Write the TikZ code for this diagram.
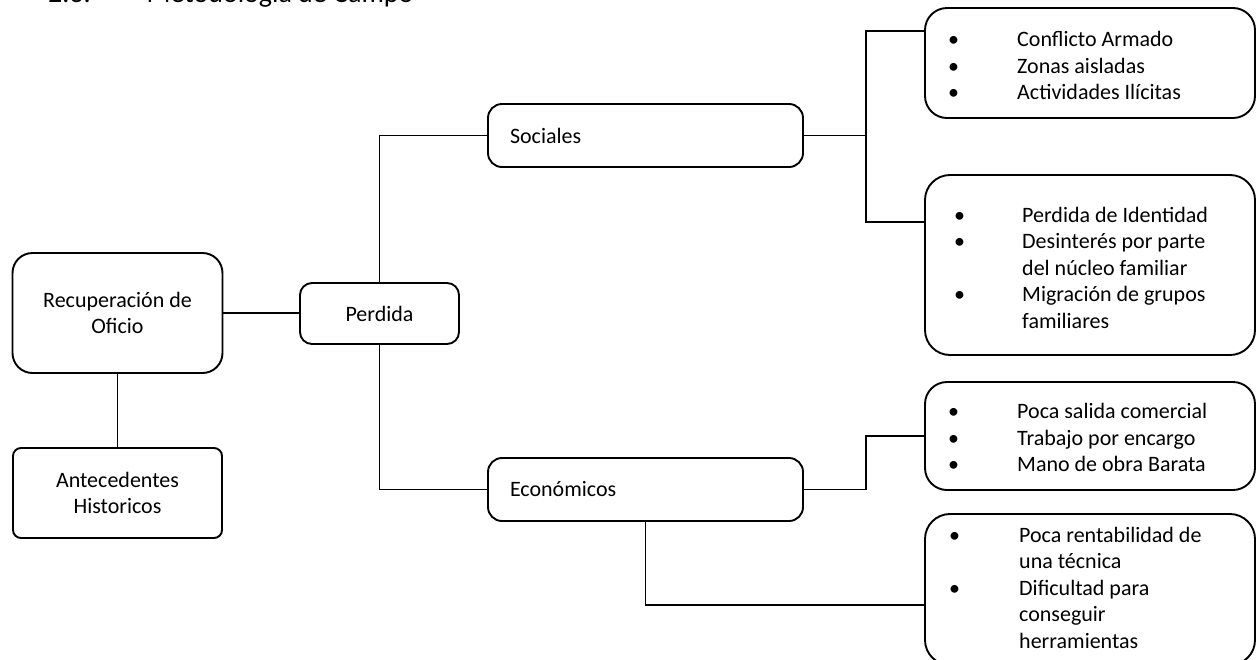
\documentclass[tikz,border=0pt]{standalone}
\usepackage{fontspec}
\setmainfont{Carlito}
\begin{document}
\begin{tikzpicture}[x=1pt,y=-1pt]
\tikzset{
  bx/.style={draw=black, line width=1.9pt, rounded corners=#1, inner sep=0pt, align=center,
             font=\fontsize{22}{26.5}\selectfont},
  bx/.default=15pt,
  lst/.style={anchor=west, inner sep=0pt, font=\fontsize{22}{26.5}\selectfont},
  conn/.style={line width=1.9pt},
  head/.style={anchor=base west, inner sep=0pt, font=\fontsize{28}{34}\selectfont}
}
\useasboundingbox (0,0) rectangle (1257,659);
\clip (0,0) rectangle (1257,659);

% heading (cut off at top, as in the reference)
\node[head] (hd) at (48,2.5) {2.3.\hspace*{56pt}Metodología de Campo};

% main boxes
\node[bx=20pt, minimum width=210pt, minimum height=120pt] (rec) at (117.5,313) {Recuperación de\\Oficio};
\node[bx=8pt, minimum width=209pt, minimum height=90pt] (ant) at (117.5,493) {Antecedentes\\Historicos};
\node[bx=12pt, minimum width=159pt, minimum height=61pt] (per) at (379.5,313.5) {Perdida};
\node[bx=14pt, minimum height=63pt, text width=271pt, inner xsep=22pt, align=left] (soc) at (645.5,135.5) {Sociales};
\node[bx=14pt, minimum height=63pt, text width=271pt, inner xsep=22pt, align=left] (eco) at (645.5,489.5) {Económicos};

% right boxes
\node[bx=22pt, minimum width=330pt, minimum height=110pt] (b1) at (1090,63) {};
\node[bx=25pt, minimum width=330pt, minimum height=180pt] (b2) at (1090,265) {};
\node[bx=22pt, minimum width=330pt, minimum height=108pt] (b3) at (1090,436) {};
\node[bx=25pt, minimum width=330pt, minimum height=151pt] (b4) at (1090,589.5) {};

% lists
\node[lst] (t1) at (948,68) {\begin{tabular}{@{}p{69pt}@{}l@{}}
  • & Conflicto Armado\\
  • & Zonas aisladas\\
  • & Actividades Ilícitas
\end{tabular}};
\node[lst] (t2) at (954,270) {\begin{tabular}{@{}p{68pt}@{}l@{}}
  • & Perdida de Identidad\\
  • & Desinterés por parte\\
    & del núcleo familiar\\
  • & Migración de grupos\\
    & familiares
\end{tabular}};
\node[lst] (t3) at (948,440) {\begin{tabular}{@{}p{69pt}@{}l@{}}
  • & Poca salida comercial\\
  • & Trabajo por encargo\\
  • & Mano de obra Barata
\end{tabular}};
\node[lst] (t4) at (949,590) {\begin{tabular}{@{}p{70pt}@{}l@{}}
  • & Poca rentabilidad de\\
    & una técnica\\
  • & Dificultad para\\
    & conseguir\\
    & herramientas
\end{tabular}};

% junctions
\coordinate (j1) at (866,135.5);
\coordinate (j2) at (866,489.5);

% connectors
\draw[conn] (rec.east) -- (rec.east -| per.west);
\draw[conn] (rec.south) -- (ant.north);
\draw[conn] (per.north) |- (soc.west);
\draw[conn] (per.south) |- (eco.west);
\draw[conn] (soc.east) -- (j1);
\draw[conn] (j1) |- ([yshift=32pt]b1.west);
\draw[conn] (j1) |- ([yshift=43pt]b2.west);
\draw[conn] (eco.east) -- (j2) |- (b3.west);
\draw[conn] (eco.south) |- ([yshift=-15.5pt]b4.west);
\end{tikzpicture}
\end{document}
